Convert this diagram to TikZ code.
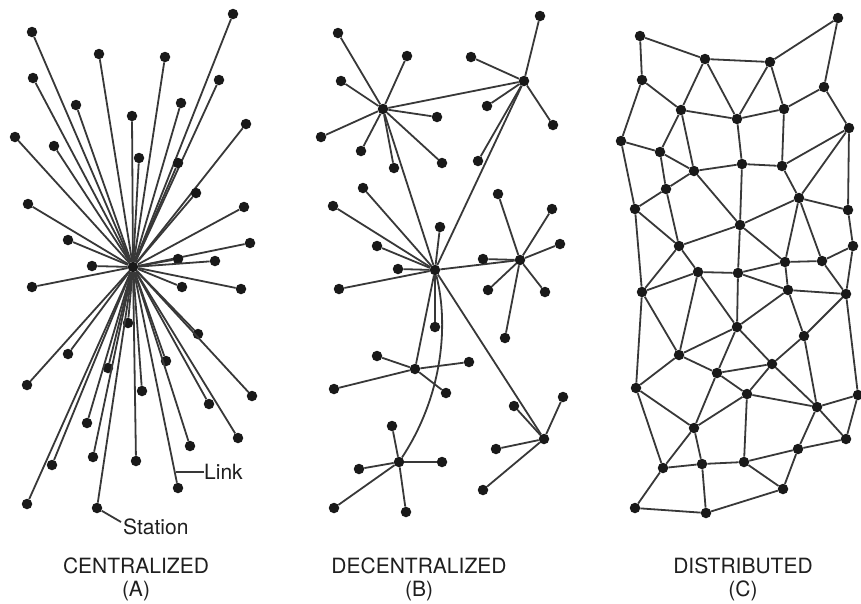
\documentclass[tikz,border=0pt]{standalone}
\usepackage{fontspec}
\setmainfont{TeX Gyre Heros}
\begin{document}
\begin{tikzpicture}[x=1pt,y=-1pt,
  dot/.style={circle,fill=black!90,inner sep=0pt,minimum size=10.5pt},
  link/.style={draw=black!78,line width=1.8pt},
  lbl/.style={text=black!88,font=\fontsize{21}{23}\selectfont,inner sep=0pt}]
\useasboundingbox[fill=white] (0,0) rectangle (861,603);
% ---------------- (A) centralized ----------------
\node[dot] (ahub) at (133,267) {};
\foreach \n/\x/\y in {1/32/32,2/99/54,3/165/57,4/233/14,5/33/78,6/219/80,7/76/105,8/181/103,
  9/132/116,10/246/124,11/15/137,12/54/146,13/139/158,14/178/163,15/196/193,16/28/204,
  17/244/207,18/68/240,19/250/243,20/178/259,21/215/261,22/92/266,23/32/287,24/182/287,
  25/241/289,26/128/323,27/198/334,28/68/354,29/166/361,30/108/368,31/27/385,32/142/391,
  33/252/396,34/209/404,35/87/423,36/238/438,37/190/446,38/93/457,39/52/465,40/136/461,
  41/178/488,42/27/504,43/97/508}{
  \node[dot] (a\n) at (\x,\y) {};
  \draw[link] (ahub) -- (a\n);
}
\node[lbl,anchor=west] (linklbl) at (204,472) {Link};
\coordinate (linkpt) at (176,472);
\draw[link] (linkpt) -- (linklbl.west);
\node[lbl,anchor=west] (stationlbl) at (123,527) {Station};
\coordinate (stationpt) at (121,522);
\draw[link] (a43) -- (stationpt);
% ---------------- (B) decentralized ----------------
\node[dot] (b1) at (383,109) {};
\node[dot] (b2) at (524,81) {};
\node[dot] (b3) at (435,270) {};
\node[dot] (b4) at (520,260) {};
\node[dot] (b5) at (415,369) {};
\node[dot] (b6) at (399,462) {};
\node[dot] (b7) at (544,439) {};
\draw[link] (b1) -- (b2);
\draw[link] (b1) -- (b3);
\draw[link] (b2) -- (b3);
\draw[link] (b3) -- (b4);
\draw[link] (b3) -- (b5);
\draw[link] (b3) -- (b7);
\draw[link] (b3) .. controls (450,330) and (440,400) .. (b6);
\foreach \h/\n/\x/\y in {b1/1/338/33,b1/2/407/56,b1/3/341/81,b1/4/437/117,b1/5/321/137,
  b1/6/361/151,b1/7/394/168,b1/8/442/163,
  b2/9/540/16,b2/10/471/57,b2/11/487/106,b2/12/553/125,b2/13/478/161,
  b3/14/333/206,b3/15/363/188,b3/16/440/227,b3/17/377/246,b3/18/398/269,b3/19/339/289,b3/20/435/327,
  b4/21/498/194,b4/22/552/209,b4/23/560/244,b4/24/483/259,b4/25/488/290,b4/26/545/292,b4/27/505/338,
  b5/28/377/356,b5/29/469/362,b5/30/334/389,b5/31/446/393,
  b6/32/392/426,b6/33/359/469,b6/34/442/462,b6/35/334/508,b6/36/406/512,
  b7/37/514/406,b7/38/563/397,b7/39/496/449,b7/40/483/490}{
  \node[dot] (bl\n) at (\x,\y) {};
  \draw[link] (\h) -- (bl\n);
}
% ---------------- (C) distributed ----------------
\foreach \n/\x/\y in {c1/640/36,c2/705/59,c3/770/62,c4/838/18,c5/642/80,c6/824/87,c7/681/110,
  c8/737/119,c9/784/109,c10/849/128,c11/621/141,c12/660/152,c13/694/171,c14/742/164,
  c15/782/166,c16/666/189,c17/799/198,c18/635/209,c19/848/210,c20/740/225,c21/679/246,
  c22/853/246,c23/785/262,c24/822/261,
  d1/698/272,d2/738/273,d5/642/292,d6/788/290,d7/846/294,d8/737/327,d9/804/336,d10/679/355,
  d11/772/364,d12/717/373,d13/636/388,d14/747/394,d15/858/395,d16/817/407,d17/694/428,
  d18/846/439,d19/798/449,d20/663/468,d21/702/464,d22/744/462,d23/783/489,d24/635/508,d25/706/513}{
  \node[dot] (\n) at (\x,\y) {};
}
\foreach \p/\q in {c1/c2,c1/c5,c2/c3,c3/c4,c4/c6,c2/c7,c2/c8,c3/c8,c3/c9,c5/c7,c5/c11,c7/c8,c8/c9,
  c6/c9,c6/c10,c7/c12,c7/c13,c8/c14,c9/c15,c11/c12,c11/c18,c12/c13,c12/c16,c13/c14,c14/c15,
  c13/c16,c15/c10,c10/c17,c10/c19,c15/c17,c14/c20,c13/c20,c16/c18,c18/c21,c16/c21,c17/c20,
  c17/c19,c17/c23,c17/c24,c20/c21,c19/c22,c21/d5,c21/d1,c20/d2,c20/c23,c18/d5,c23/c24,c24/c22,
  c22/d7,d5/d1,d1/d2,d2/c23,c23/d6,c24/d7,d6/d7,d2/d6,d1/d8,d2/d8,d6/d8,d1/d10,d5/d10,d5/d13,
  d6/d9,d7/d9,d7/d15,d8/d10,d8/d12,d8/d11,d9/d11,d9/d16,d10/d12,d10/d13,d12/d11,d12/d14,
  d11/d14,d11/d16,d14/d16,d16/d15,d16/d18,d16/d19,d15/d18,d12/d17,d14/d17,d14/d22,d13/d17,
  d13/d20,d17/d20,d17/d21,d20/d21,d21/d22,d22/d19,d19/d18,d19/d23,d22/d23,d20/d24,d21/d25,
  d24/d25,d25/d23}{
  \draw[link] (\p) -- (\q);
}
% ---------------- captions ----------------
\node[lbl] (capa) at (136,566) {CENTRALIZED};
\node[lbl] (capa2) at (136,591) {(A)};
\node[lbl] (capb) at (419,566) {DECENTRALIZED};
\node[lbl] (capb2) at (419,591) {(B)};
\node[lbl] (capc) at (743,566) {DISTRIBUTED};
\node[lbl] (capc2) at (743,591) {(C)};
\end{tikzpicture}
\end{document}
